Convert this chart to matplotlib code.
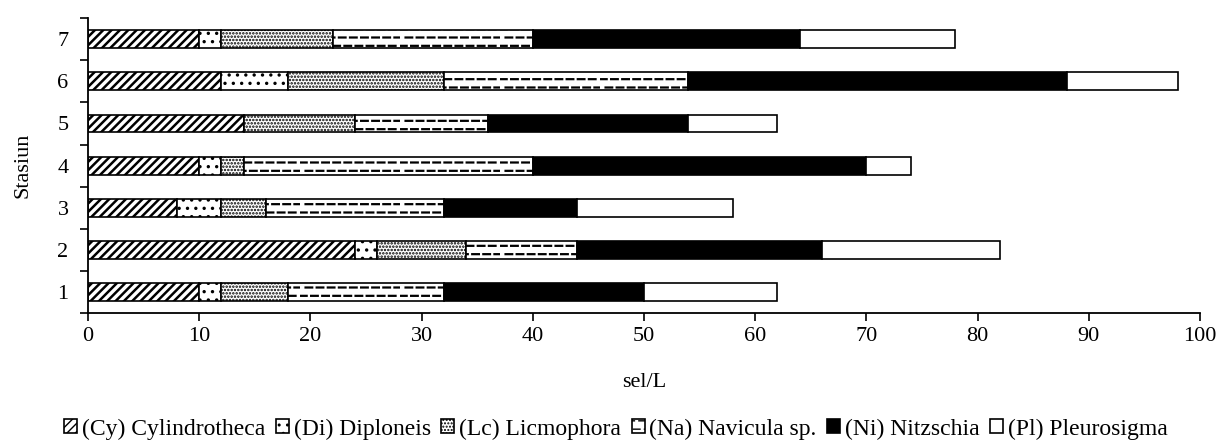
import matplotlib
matplotlib.use("Agg")
import matplotlib.pyplot as plt
from matplotlib import hatch as mhatch
from matplotlib.path import Path
import numpy as np

stations = ["1", "2", "3", "4", "5", "6", "7"]
series_names = ["(Cy) Cylindrotheca", "(Di) Diploneis", "(Lc) Licmophora",
                "(Na) Navicula sp.", "(Ni) Nitzschia", "(Pl) Pleurosigma"]
cy = [10, 24, 8, 10, 14, 12, 10]
di = [2, 2, 4, 2, 0, 6, 2]
lc = [6, 8, 4, 2, 10, 14, 10]
na = [14, 10, 16, 26, 12, 22, 18]
ni = [18, 22, 12, 30, 18, 34, 24]
pl = [12, 16, 14, 4, 8, 10, 14]
x_ticks = [0, 10, 20, 30, 40, 50, 60, 70, 80, 90, 100]


class DashedHorizontalHatch(mhatch.HatchPatternBase):
    """Horizontal dashed lines, staggered per row (replaces '-' hatch)."""
    def __init__(self, hatch, density):
        self.num_lines = int((hatch.count('-') + hatch.count('+')) * density)
        self.ndash = 9
        self.num_vertices = self.num_lines * self.ndash * 2

    def set_vertices_and_codes(self, vertices, codes):
        steps = np.linspace(0.0, 1.0, self.num_lines, endpoint=False)
        steps += 0.5 / self.num_lines
        k = 0
        for i, y in enumerate(steps):
            off = 0.0 if i % 2 == 0 else 0.5 / self.ndash
            for j in range(self.ndash):
                x0 = j / self.ndash + off
                x1 = min(x0 + 0.6 / self.ndash, 1.0)
                vertices[k] = (x0, y)
                vertices[k + 1] = (x1, y)
                codes[k] = Path.MOVETO
                codes[k + 1] = Path.LINETO
                k += 2


mhatch._hatch_types = [DashedHorizontalHatch if t is mhatch.HorizontalHatch else t
                       for t in mhatch._hatch_types]

plt.rcParams['font.family'] = ['Liberation Serif', 'DejaVu Serif']
plt.rcParams['hatch.color'] = 'black'

fig = plt.figure(figsize=(12.32, 4.4), dpi=100)
ax = fig.add_axes([0.0714, 0.288, 0.9026, 0.671])

data = [cy, di, lc, na, ni, pl]
faces = ['white', 'white', 'white', 'white', 'black', 'white']
hatches = ['////', '..', '.....', '--', None, None]
hatch_lw = [1.8, 1.2, 1.2, 1.6, 1.0, 1.0]
ypos = np.arange(1, len(stations) + 1)
left = np.zeros(len(stations))
handles = []
for vals, name, fc, h, hlw in zip(data, series_names, faces, hatches, hatch_lw):
    plt.rcParams['hatch.linewidth'] = hlw
    vals = np.array(vals, dtype=float)
    b = ax.barh(ypos, vals, left=left, height=0.42, color=fc, edgecolor='black',
                linewidth=1.2, hatch=h, label=name)
    handles.append(b)
    left += vals

ax.set_xlim(0, 100)
ax.set_ylim(0.5, 7.5)
ax.set_xticks(x_ticks)
ax.set_xticklabels([str(t) for t in x_ticks], fontsize=16)
ax.set_yticks(ypos)
ax.set_yticklabels(stations, fontsize=16)
ax.set_yticks(np.arange(0.5, 7.6, 1.0), minor=True)
ax.tick_params(axis='y', which='major', length=0, pad=14)
ax.tick_params(axis='y', which='minor', length=6, width=1.2, direction='out')
ax.tick_params(axis='x', which='major', length=6, width=1.2, direction='out', pad=4)
for s in ['top', 'right']:
    ax.spines[s].set_visible(False)
for s in ['left', 'bottom']:
    ax.spines[s].set_linewidth(1.3)
ax.set_xlabel('sel/L', fontsize=16, labelpad=19)
ax.set_ylabel('Stasiun', fontsize=16, labelpad=18)

fig.legend(handles=handles, labels=series_names, loc='center', bbox_to_anchor=(0.5, 0.025),
           ncol=6, frameon=False, fontsize=17, handlelength=0.55, handleheight=0.55,
           handletextpad=0.2, columnspacing=0.45, borderaxespad=0)

fig.savefig('out.png', dpi=100)
